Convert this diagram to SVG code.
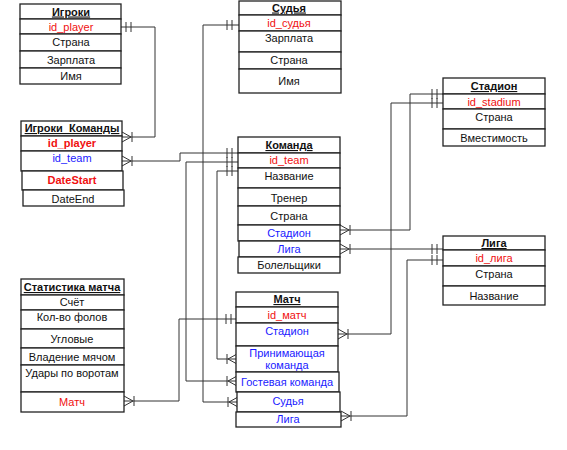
<svg xmlns="http://www.w3.org/2000/svg" width="567" height="450" viewBox="0 0 567 450">
<style>
.box{fill:#fff;stroke:#222;stroke-width:1.3}
.t{font-family:"Liberation Sans",Arial,sans-serif;font-size:11px;text-anchor:middle;fill:#111}
.h{font-weight:bold;text-decoration:underline}
.r{fill:#f01010}
.b{fill:#1a1aff}
.c{fill:none;stroke:#333;stroke-width:1}
.m{fill:none;stroke:#333;stroke-width:1}
</style>
<defs>
<path id="crowR" class="m" d="M0,-5 L9,0 L0,5 M10,-5 V5"/>
<path id="crowL" class="m" d="M0,-5 L-9,0 L0,5 M-10,-5 V5"/>
<path id="bars" class="m" d="M0,-5 V5 M5,-5 V5"/>
</defs>
<rect width="567" height="450" fill="#fff"/>

<g id="connectors">
<path class="c" d="M121,27 H155 V137 H122"/>
<use href="#bars" x="126" y="27"/>
<use href="#crowR" x="122" y="137"/>

<path class="c" d="M122,161 H180 V153 H238"/>
<use href="#crowR" x="122" y="161"/>
<use href="#bars" x="227" y="153"/>

<path class="c" d="M238,162 H186 V381 H236"/>
<use href="#bars" x="227" y="162"/>
<use href="#crowL" x="237" y="381"/>

<path class="c" d="M238,171 H217 V359 H236"/>
<use href="#bars" x="227" y="171"/>
<use href="#crowL" x="237" y="359"/>

<path class="c" d="M239,25 H203 V402 H237"/>
<use href="#bars" x="227" y="25"/>
<use href="#crowL" x="238" y="402"/>

<path class="c" d="M236,319 H179 V401 H124"/>
<use href="#bars" x="226" y="319"/>
<use href="#crowR" x="124" y="401"/>

<path class="c" d="M340,230 H410 V94 H443"/>
<use href="#crowR" x="340" y="230"/>
<use href="#bars" x="432" y="94"/>

<path class="c" d="M338,334 H391 V103 H443"/>
<use href="#crowR" x="338" y="334"/>
<use href="#bars" x="432" y="103"/>

<path class="c" d="M340,249 H443"/>
<use href="#crowR" x="340" y="249"/>
<use href="#bars" x="432" y="249"/>

<path class="c" d="M341,416 H407 V260 H443"/>
<use href="#crowR" x="341" y="416"/>
<use href="#bars" x="432" y="260"/>
</g>

<g id="igroki">
<rect class="box" x="20" y="4" width="101" height="15"/>
<rect class="box" x="20" y="19" width="101" height="15"/>
<rect class="box" x="20" y="34" width="101" height="17"/>
<rect class="box" x="20" y="51" width="101" height="17"/>
<rect class="box" x="20" y="68" width="101" height="16"/>
<text class="t h" x="71" y="15.5">Игроки</text>
<text class="t r" x="71" y="30.5">id_player</text>
<text class="t" x="71" y="46">Страна</text>
<text class="t" x="71" y="64">Зарплата</text>
<text class="t" x="71" y="80">Имя</text>
</g>

<g id="igroki_komandy">
<rect class="box" x="21" y="121" width="101" height="15"/>
<rect class="box" x="21" y="136" width="101" height="15"/>
<rect class="box" x="21" y="151" width="101" height="20"/>
<rect class="box" x="22" y="171" width="101" height="19"/>
<rect class="box" x="23" y="190" width="101" height="16"/>
<text class="t h" x="72" y="132">Игроки_Команды</text>
<text class="t r" x="72" y="147" font-weight="bold">id_player</text>
<text class="t b" x="72" y="162">id_team</text>
<text class="t r" x="72" y="184" font-weight="bold">DateStart</text>
<text class="t" x="73" y="203">DateEnd</text>
</g>

<g id="sudya">
<rect class="box" x="239" y="1" width="102" height="14"/>
<rect class="box" x="239" y="15" width="102" height="16"/>
<rect class="box" x="239" y="31" width="102" height="21"/>
<rect class="box" x="239" y="52" width="102" height="17"/>
<rect class="box" x="239" y="69" width="102" height="24"/>
<text class="t h" x="289" y="11.5">Судья</text>
<text class="t r" x="289" y="27">id_судья</text>
<text class="t" x="289" y="42">Зарплата</text>
<text class="t" x="289" y="64">Страна</text>
<text class="t" x="289" y="85">Имя</text>
</g>

<g id="komanda">
<rect class="box" x="238" y="137" width="102" height="16"/>
<rect class="box" x="238" y="153" width="102" height="15"/>
<rect class="box" x="238" y="168" width="102" height="20"/>
<rect class="box" x="238" y="188" width="102" height="18"/>
<rect class="box" x="238" y="206" width="102" height="19"/>
<rect class="box" x="238" y="225" width="102" height="16" stroke-width="1.6"/>
<rect class="box" x="239" y="241" width="101" height="16" stroke-width="1.6"/>
<rect class="box" x="238" y="257" width="102" height="16"/>
<text class="t h" x="289" y="149">Команда</text>
<text class="t r" x="289" y="164">id_team</text>
<text class="t" x="289" y="180">Название</text>
<text class="t" x="289" y="202">Тренер</text>
<text class="t" x="289" y="220">Страна</text>
<text class="t b" x="289" y="237">Стадион</text>
<text class="t b" x="289" y="253">Лига</text>
<text class="t" x="289" y="269">Болельщики</text>
</g>

<g id="stadion">
<rect class="box" x="443" y="78" width="102" height="16"/>
<rect class="box" x="443" y="94" width="102" height="15"/>
<rect class="box" x="443" y="109" width="102" height="20"/>
<rect class="box" x="443" y="129" width="102" height="17"/>
<text class="t h" x="494" y="90">Стадион</text>
<text class="t r" x="494" y="106">id_stadium</text>
<text class="t" x="494" y="121">Страна</text>
<text class="t" x="494" y="142">Вместимость</text>
</g>

<g id="liga">
<rect class="box" x="443" y="236" width="102" height="14"/>
<rect class="box" x="443" y="250" width="102" height="16"/>
<rect class="box" x="443" y="266" width="102" height="20"/>
<rect class="box" x="443" y="286" width="102" height="19"/>
<text class="t h" x="494" y="247">Лига</text>
<text class="t r" x="494" y="262">id_лига</text>
<text class="t" x="494" y="278">Страна</text>
<text class="t" x="494" y="300">Название</text>
</g>

<g id="statistika">
<rect class="box" x="21" y="279" width="103" height="16"/>
<rect class="box" x="21" y="295" width="103" height="15"/>
<rect class="box" x="21" y="310" width="103" height="19"/>
<rect class="box" x="21" y="329" width="103" height="19"/>
<rect class="box" x="21" y="348" width="103" height="17"/>
<rect class="box" x="21" y="365" width="103" height="27"/>
<rect class="box" x="21" y="392" width="103" height="20"/>
<text class="t h" x="72" y="291">Статистика матча</text>
<text class="t" x="72" y="306">Счёт</text>
<text class="t" x="72" y="321">Кол-во фолов</text>
<text class="t" x="72" y="343">Угловые</text>
<text class="t" x="72" y="361">Владение мячом</text>
<text class="t" x="72" y="377">Удары по воротам</text>
<text class="t r" x="72" y="406">Матч</text>
</g>

<g id="match">
<rect class="box" x="236" y="292" width="102" height="15"/>
<rect class="box" x="236" y="307" width="102" height="16"/>
<rect class="box" x="236" y="323" width="102" height="23"/>
<rect class="box" x="236" y="346" width="102" height="26"/>
<rect class="box" x="236" y="372" width="103" height="20"/>
<rect class="box" x="237" y="392" width="103" height="20"/>
<rect class="box" x="236" y="412" width="105" height="15"/>
<text class="t h" x="287" y="303">Матч</text>
<text class="t r" x="287" y="319">id_матч</text>
<text class="t b" x="287" y="335">Стадион</text>
<text class="t b" x="287" y="357">Принимающая</text>
<text class="t b" x="287" y="369">команда</text>
<text class="t b" x="287" y="386">Гостевая команда</text>
<text class="t b" x="288" y="405">Судья</text>
<text class="t b" x="288" y="423">Лига</text>
</g>
</svg>
